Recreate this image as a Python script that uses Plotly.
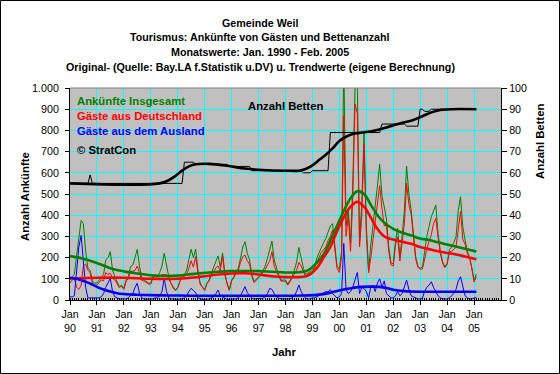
import plotly.graph_objects as go
import pandas as pd

# ---------------- data (monthly, Jan 1990 - Feb 2005) ----------------
total = [
    95, 110, 120, 210, 300, 375, 360, 230, 150, 140, 90, 80,        # 1990
    80, 95, 110, 120, 189, 200, 228, 141, 110, 87, 63, 70,          # 1991
    55, 94, 110, 157, 165, 200, 239, 157, 102, 95, 87, 80,          # 1992
    80, 113, 120, 110, 130, 160, 221, 160, 110, 79, 60, 47,         # 1993
    60, 94, 118, 120, 141, 190, 240, 200, 240, 141, 80, 63,         # 1994
    48, 80, 94, 127, 150, 181, 208, 157, 222, 127, 80, 48,          # 1995
    94, 110, 134, 150, 197, 250, 275, 220, 189, 120, 87, 100,       # 1996
    110, 120, 141, 160, 197, 240, 278, 189, 150, 118, 94, 94,       # 1997
    94, 75, 90, 110, 141, 180, 248, 200, 150, 120, 127, 130,        # 1998
    141, 160, 197, 223, 250, 270, 290, 318, 349, 360, 250, 160,     # 1999
    145, 230, 1140, 350, 430, 270, 540, 1015, 1010, 280, 460, 790,  # 2000
    350, 138, 255, 349, 420, 540, 640, 490, 440, 382, 250, 176,     # 2001
    170, 280, 338, 204, 300, 420, 632, 500, 424, 315, 204, 160,     # 2002
    149, 157, 236, 300, 346, 393, 420, 448, 315, 230, 180, 157,     # 2003
    173, 236, 250, 270, 299, 424, 487, 346, 283, 230, 204, 157,     # 2004
    94, 123,                                                        # 2005
]
german = [
    80, 95, 100, 60, 50, 70, 160, 170, 140, 130, 80, 70,
    70, 85, 95, 90, 129, 120, 126, 101, 95, 77, 58, 65,
    50, 89, 100, 137, 135, 140, 160, 127, 92, 90, 82, 75,
    75, 108, 110, 100, 110, 120, 119, 120, 100, 74, 55, 44,
    57, 89, 113, 110, 121, 150, 185, 155, 205, 131, 75, 60,
    45, 77, 89, 117, 135, 151, 161, 137, 207, 119, 77, 45,
    89, 105, 129, 140, 177, 205, 212, 185, 169, 112, 82, 95,
    105, 115, 133, 145, 167, 185, 228, 159, 135, 110, 89, 89,
    89, 70, 85, 100, 121, 140, 177, 160, 130, 110, 122, 125,
    131, 150, 182, 200, 225, 237, 250, 280, 300, 330, 230, 150,
    130, 200, 870, 300, 400, 230, 480, 925, 880, 250, 400, 736,
    310, 128, 195, 279, 380, 460, 540, 430, 350, 352, 230, 166,
    160, 260, 298, 184, 270, 360, 550, 450, 404, 300, 194, 155,
    144, 147, 196, 240, 276, 307, 360, 385, 295, 220, 175, 152,
    168, 226, 230, 240, 249, 334, 417, 286, 263, 220, 199, 152,
    85, 110,
]
foreign = [
    15, 15, 20, 150, 250, 305, 200, 60, 10, 10, 10, 10,
    10, 10, 15, 30, 60, 80, 102, 40, 15, 10, 5, 5,
    5, 5, 10, 20, 30, 60, 79, 30, 10, 5, 5, 5,
    5, 5, 10, 10, 20, 40, 102, 40, 10, 5, 5, 3,
    3, 5, 5, 10, 20, 40, 55, 45, 35, 10, 5, 3,
    3, 3, 5, 10, 15, 30, 47, 20, 15, 8, 3, 3,
    5, 5, 5, 10, 20, 45, 63, 35, 20, 8, 5, 5,
    5, 5, 8, 15, 30, 55, 50, 30, 15, 8, 5, 5,
    5, 5, 5, 10, 20, 40, 71, 40, 20, 10, 5, 5,
    10, 10, 15, 23, 25, 33, 40, 38, 49, 30, 20, 10,
    15, 30, 267, 50, 30, 40, 60, 90, 130, 30, 60, 54,
    40, 10, 60, 70, 40, 80, 100, 60, 90, 30, 20, 10,
    10, 20, 40, 20, 30, 60, 94, 50, 20, 15, 10, 5,
    5, 10, 40, 60, 70, 86, 60, 40, 20, 10, 5, 5,
    5, 10, 20, 30, 50, 90, 110, 60, 20, 10, 5, 5,
    9, 13,
]

# beds: constant levels and how many months each level lasted
bed_levels = [55, 59, 55, 65, 64, 63, 61, 60, 61, 79, 83, 82, 90, 89, 90]
bed_months = [9, 1, 41, 5, 15, 10, 23, 4, 8, 23, 11, 6, 2, 3, 21]

# trend values (month index since Jan 1990, value)
total_trend_m = [0, 6, 12, 18, 24, 30, 36, 42, 48, 54, 60, 66, 72, 78, 84, 90, 96, 102, 106, 110,
                 113, 116, 119, 122, 125, 128, 131, 134, 137, 140, 144, 148, 152, 156, 160, 164,
                 168, 172, 176, 181]
total_trend_v = [207, 195, 175, 150, 135, 125, 117, 113, 115, 122, 128, 133, 136, 137, 136, 133, 130,
                 131, 140, 175, 215, 280, 350, 420, 480, 513, 500, 450, 400, 365, 335, 318, 305,
                 290, 283, 272, 262, 252, 242, 229]
german_trend_m = [0, 12, 24, 36, 48, 54, 60, 66, 72, 78, 84, 90, 96, 102, 106, 110, 113, 116, 119,
                  122, 125, 128, 131, 134, 137, 140, 144, 148, 152, 156, 160, 164, 168, 172, 176, 181]
german_trend_v = [102, 105, 105, 100, 100, 105, 112, 120, 125, 126, 120, 112, 108, 108, 115, 150,
                  200, 250, 325, 390, 440, 463, 440, 390, 335, 300, 285, 275, 265, 250, 240, 230,
                  222, 215, 205, 192]
foreign_trend_m = [0, 3, 6, 9, 12, 15, 18, 21, 24, 30, 36, 48, 60, 72, 84, 96, 104, 110, 114, 118,
                   122, 126, 130, 134, 138, 141, 144, 148, 152, 160, 170, 181]
foreign_trend_v = [105, 100, 90, 78, 62, 50, 40, 32, 28, 25, 23, 21, 20, 20, 20, 20, 21, 24, 30, 40,
                   50, 57, 62, 63, 62, 57, 48, 43, 40, 39, 39, 39]
beds_trend_m = [0, 40, 44, 47, 50, 53, 56, 62, 70, 78, 86, 96, 102, 105, 108, 111, 114, 117, 120,
                123, 126, 130, 135, 141, 147, 153, 157, 161, 165, 170, 181]
beds_trend_v = [55, 55, 56.5, 58.5, 61, 63, 64, 64.2, 63.3, 62, 61.3, 61, 61, 61.8, 63.5, 66, 68.5,
                71.5, 75, 77, 78.3, 79, 79.7, 81.4, 83.3, 84.9, 86.7, 88.5, 89.6, 90, 90]

tick_years = list(range(1990, 2006))
x_tick_labels = ["Jan<br>%02d" % (y % 100) for y in tick_years]
y_tick_values = list(range(0, 1001, 100))
y_tick_labels = ["0", "100", "200", "300", "400", "500", "600", "700", "800", "900", "1.000"]
y2_tick_values = list(range(0, 101, 10))
y2_tick_labels = [str(v) for v in y2_tick_values]

# ---------------- figure ----------------
months = pd.date_range("1990-01-01", periods=len(total), freq="MS")
beds = []
for lvl, n in zip(bed_levels, bed_months):
    beds += [lvl] * n

GREEN, RED, BLUE, BLACK = "#008000", "#FF0000", "#0000FF", "#000000"
FONT = "Liberation Sans, Arial, sans-serif"
TW = 2.6

fig = go.Figure()
fig.add_trace(go.Scatter(x=months, y=total, mode="lines", line=dict(color=GREEN, width=1)))
fig.add_trace(go.Scatter(x=months, y=german, mode="lines", line=dict(color=RED, width=1)))
fig.add_trace(go.Scatter(x=months, y=foreign, mode="lines", line=dict(color=BLUE, width=1)))
fig.add_trace(go.Scatter(x=months[total_trend_m], y=total_trend_v, mode="lines",
                         line=dict(color=GREEN, width=TW, shape="spline")))
fig.add_trace(go.Scatter(x=months[german_trend_m], y=german_trend_v, mode="lines",
                         line=dict(color=RED, width=TW, shape="spline")))
fig.add_trace(go.Scatter(x=months[foreign_trend_m], y=foreign_trend_v, mode="lines",
                         line=dict(color=BLUE, width=TW, shape="spline")))
fig.add_trace(go.Scatter(x=months, y=beds, mode="lines", yaxis="y2",
                         line=dict(color=BLACK, width=1)))
fig.add_trace(go.Scatter(x=months[beds_trend_m], y=beds_trend_v, mode="lines", yaxis="y2",
                         line=dict(color=BLACK, width=TW, shape="spline")))

L, R, T, B = 70, 501, 88, 300
W, H = 560, 374
pw, ph = R - L, B - T


def px(x):
    return (x - L) / pw


def py(y):
    return (B - y) / ph


ann = []
titles = ["Gemeinde Weil",
          "Tourismus: Ankünfte von Gästen und Bettenanzahl",
          "Monatswerte: Jan. 1990 - Feb. 2005",
          "Original- (Quelle: Bay.LA f.Statistik u.DV) u. Trendwerte (eigene Berechnung)"]
for t, yy in zip(titles, [22.5, 37.3, 51.9, 66.7]):
    ann.append(dict(text="<b>%s</b>" % t, x=px(260), y=py(yy), xref="paper", yref="paper",
                    showarrow=False, xanchor="center", yanchor="middle",
                    font=dict(family=FONT, size=10.7, color=BLACK)))
legend_items = [("Ankünfte Insgesamt", GREEN, 100.7), ("Gäste aus Deutschland", RED, 116),
                ("Gäste aus dem Ausland", BLUE, 130.7), ("© StratCon", BLACK, 150)]
for t, c, yy in legend_items:
    ann.append(dict(text="<b>%s</b>" % t, x=px(75), y=py(yy), xref="paper", yref="paper",
                    showarrow=False, xanchor="left", yanchor="middle",
                    font=dict(family=FONT, size=11.3, color=c)))
ann.append(dict(text="<b>Anzahl Betten</b>", x=px(285.5), y=py(106), xref="paper", yref="paper",
                showarrow=False, xanchor="center", yanchor="middle",
                font=dict(family=FONT, size=11.3, color=BLACK)))
ann.append(dict(text="<b>Jahr</b>", x=px(284), y=py(352), xref="paper", yref="paper",
                showarrow=False, xanchor="center", yanchor="middle",
                font=dict(family=FONT, size=11.3, color=BLACK)))
ann.append(dict(text="<b>Anzahl Ankünfte</b>", x=px(25), y=py(197), xref="paper", yref="paper",
                showarrow=False, xanchor="center", yanchor="middle", textangle=-90,
                font=dict(family=FONT, size=11.3, color=BLACK)))
ann.append(dict(text="<b>Anzahl Betten</b>", x=px(540), y=py(142), xref="paper", yref="paper",
                showarrow=False, xanchor="center", yanchor="middle", textangle=-90,
                font=dict(family=FONT, size=11.3, color=BLACK)))

shapes = [
    dict(type="line", xref="paper", yref="paper", x0=0, x1=1, y0=1, y1=1,
         line=dict(color="#808080", width=1)),
    dict(type="rect", xref="paper", yref="paper", x0=px(0.5), x1=px(W - 0.5),
         y0=py(H - 0.5), y1=py(0.5), line=dict(color=BLACK, width=1)),
]

tickfont = dict(family=FONT, size=10.7, color=BLACK)
fig.update_layout(
    width=W, height=H,
    margin=dict(l=L, r=W - R, t=T, b=H - B, pad=0),
    paper_bgcolor="white", plot_bgcolor="#C0C0C0",
    showlegend=False, hovermode=False,
    font=dict(family=FONT, size=10.7, color=BLACK),
    xaxis=dict(type="date", range=["1990-01-01", "2006-01-01"],
               tickmode="array", tickvals=["%d-01-01" % y for y in tick_years],
               ticktext=x_tick_labels, tickfont=tickfont,
               showgrid=True, gridcolor="#00FFFF", gridwidth=1,
               ticks="outside", ticklen=4, tickcolor=BLACK,
               showline=True, linecolor=BLACK, linewidth=1, zeroline=False,
               minor=dict(tickmode="linear", tick0="1990-01-01", dtick="M1", ticks="inside",
                          ticklen=2, tickcolor=BLACK, showgrid=False)),
    yaxis=dict(range=[0, 1000], tickmode="array", tickvals=y_tick_values, ticktext=y_tick_labels,
               tickfont=tickfont, showgrid=True, gridcolor="#00FFFF", gridwidth=1,
               ticks="outside", ticklen=4, tickcolor=BLACK, ticklabelstandoff=4,
               showline=True, linecolor=BLACK, linewidth=1, zeroline=False),
    yaxis2=dict(range=[0, 100], overlaying="y", side="right", tickmode="array",
                tickvals=y2_tick_values, ticktext=y2_tick_labels, tickfont=tickfont,
                showgrid=False, ticks="outside", ticklen=5, tickcolor=BLACK,
                showline=True, linecolor=BLACK, linewidth=1, zeroline=False),
    annotations=ann, shapes=shapes,
)

fig.write_html("out.html", config={"displayModeBar": False},
               post_script="document.body.style.margin='0px';document.body.style.overflow='hidden';")
